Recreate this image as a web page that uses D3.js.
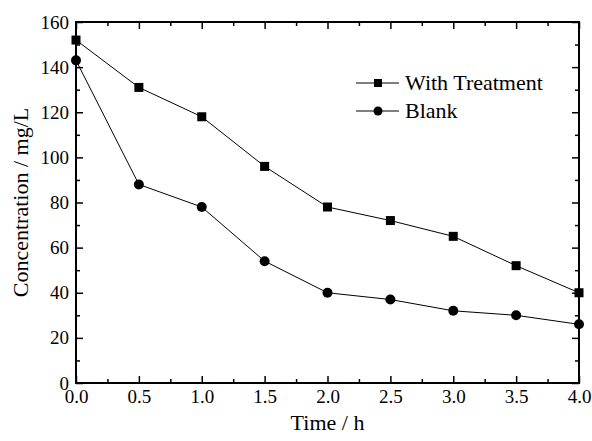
<!DOCTYPE html>
<html>
<head>
<meta charset="utf-8">
<script src="https://cdn.jsdelivr.net/npm/d3@7"></script>
<style>
  body { margin: 0; background: #fff; }
  text { font-family: "Liberation Serif", "Times New Roman", serif; fill: #000; }
</style>
</head>
<body>
<div id="chart"></div>
<script>
var times     = [0, 0.5, 1.0, 1.5, 2.0, 2.5, 3.0, 3.5, 4.0];
var treatment = [152, 131, 118, 96, 78, 72, 65, 52, 40];
var blank     = [143, 88, 78, 54, 40, 37, 32, 30, 26];
var xTicks    = [0, 0.5, 1.0, 1.5, 2.0, 2.5, 3.0, 3.5, 4.0];
var yTicks    = [0, 20, 40, 60, 80, 100, 120, 140, 160];

var width = 592, height = 441;
var margin = {top: 22, right: 13, bottom: 58, left: 76};
var w = width - margin.left - margin.right,
    h = height - margin.top - margin.bottom;

var svg = d3.select("#chart").append("svg")
    .attr("width", width)
    .attr("height", height);

var g = svg.append("g")
    .attr("transform", "translate(" + margin.left + "," + margin.top + ")");

var x = d3.scaleLinear().domain([0, 4]).range([0, w]);
var y = d3.scaleLinear().domain([0, 160]).range([h, 0]);

var minorX = d3.range(0.25, 4, 0.5);
var minorY = d3.range(10, 160, 20);

function styleAxis(sel) {
    sel.select(".domain").remove();
    sel.selectAll("line").attr("stroke", "#000").attr("stroke-width", 1.5);
    sel.selectAll("text").style("font-size", "19px");
}

// bottom axis
g.append("g").attr("transform", "translate(0," + h + ")")
    .call(d3.axisBottom(x).tickValues(xTicks).tickFormat(d3.format(".1f")).tickSize(-7).tickPadding(7))
    .call(styleAxis);
g.append("g").attr("transform", "translate(0," + h + ")")
    .call(d3.axisBottom(x).tickValues(minorX).tickFormat("").tickSize(-4))
    .call(styleAxis);

// top axis
g.append("g")
    .call(d3.axisTop(x).tickValues(xTicks).tickFormat("").tickSize(-7))
    .call(styleAxis);
g.append("g")
    .call(d3.axisTop(x).tickValues(minorX).tickFormat("").tickSize(-4))
    .call(styleAxis);

// left axis
g.append("g")
    .call(d3.axisLeft(y).tickValues(yTicks).tickFormat(d3.format("d")).tickSize(-7).tickPadding(7))
    .call(styleAxis);
g.append("g")
    .call(d3.axisLeft(y).tickValues(minorY).tickFormat("").tickSize(-4))
    .call(styleAxis);

// right axis
g.append("g").attr("transform", "translate(" + w + ",0)")
    .call(d3.axisRight(y).tickValues(yTicks).tickFormat("").tickSize(-7))
    .call(styleAxis);
g.append("g").attr("transform", "translate(" + w + ",0)")
    .call(d3.axisRight(y).tickValues(minorY).tickFormat("").tickSize(-4))
    .call(styleAxis);

// frame
g.append("rect")
    .attr("width", w).attr("height", h)
    .attr("fill", "none").attr("stroke", "#000").attr("stroke-width", 2);

var line = d3.line()
    .x(function(d, i) { return x(times[i]); })
    .y(function(d) { return y(d); });

g.append("path").datum(treatment)
    .attr("d", line).attr("fill", "none").attr("stroke", "#000").attr("stroke-width", 1);
g.append("path").datum(blank)
    .attr("d", line).attr("fill", "none").attr("stroke", "#000").attr("stroke-width", 1);

g.selectAll(".sq").data(treatment).enter().append("rect")
    .attr("x", function(d, i) { return x(times[i]) - 4.5; })
    .attr("y", function(d) { return y(d) - 4.5; })
    .attr("width", 9).attr("height", 9)
    .attr("fill", "#000");

g.selectAll(".ci").data(blank).enter().append("circle")
    .attr("cx", function(d, i) { return x(times[i]); })
    .attr("cy", function(d) { return y(d); })
    .attr("r", 5)
    .attr("fill", "#000");

// legend
var legend = svg.append("g");
var items = [{name: "With Treatment", shape: "square", y: 83}, {name: "Blank", shape: "circle", y: 111}];
items.forEach(function(it) {
    legend.append("line")
        .attr("x1", 356).attr("x2", 399).attr("y1", it.y).attr("y2", it.y)
        .attr("stroke", "#000").attr("stroke-width", 1);
    if (it.shape === "square") {
        legend.append("rect").attr("x", 378 - 4).attr("y", it.y - 4)
            .attr("width", 8).attr("height", 8).attr("fill", "#000");
    } else {
        legend.append("circle").attr("cx", 378).attr("cy", it.y).attr("r", 4.5).attr("fill", "#000");
    }
    legend.append("text").attr("x", 405).attr("y", it.y + 7)
        .style("font-size", "22px").text(it.name);
});

// axis titles
svg.append("text")
    .attr("x", margin.left + w / 2).attr("y", 430)
    .attr("text-anchor", "middle")
    .style("font-size", "22px")
    .text("Time / h");

svg.append("text")
    .attr("transform", "translate(28," + (margin.top + h / 2) + ") rotate(-90)")
    .attr("text-anchor", "middle")
    .style("font-size", "22px")
    .text("Concentration / mg/L");
</script>
</body>
</html>
